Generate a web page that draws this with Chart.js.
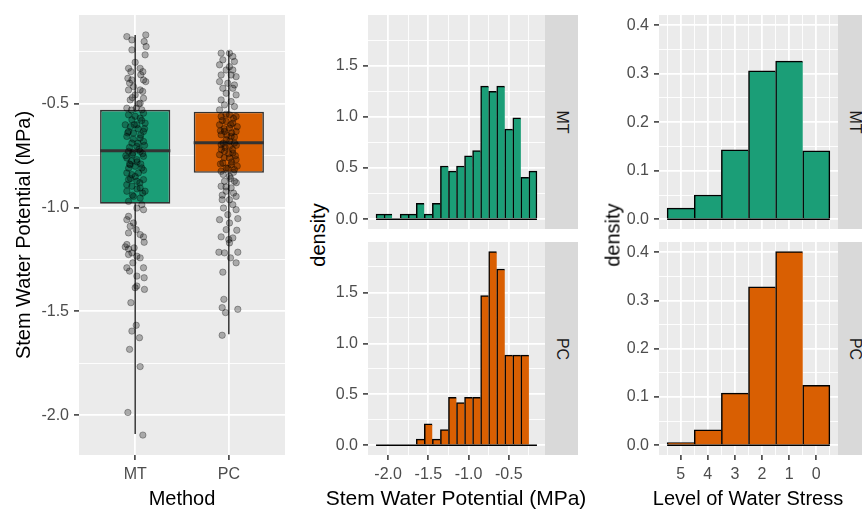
<!DOCTYPE html>
<html>
<head>
<meta charset="utf-8">
<script src="https://cdn.jsdelivr.net/npm/chart.js@4.4.0/dist/chart.umd.min.js"></script>
<style>
  body { margin: 0; width: 862px; height: 509px; overflow: hidden; position: relative; background: #fff;
         font-family: "Liberation Sans", Arial, sans-serif; }
  canvas { position: absolute; display: block; }
  .strip { position: absolute; background: #D9D9D9; overflow: hidden; }
  .strip span { position: absolute; left: 50%; top: 50%; transform: translate(-50%, -50%) rotate(90deg);
                font-size: 16px; color: #1A1A1A; white-space: nowrap; }
  .ytitle { position: absolute; transform: translate(-50%, -50%) rotate(-90deg); font-size: 20px;
            color: #000; white-space: nowrap; }
  .xtitle { position: absolute; transform: translateX(-50%); font-size: 20px; line-height: 20px;
            color: #000; white-space: nowrap; }
</style>
</head>
<body>
<canvas id="box" width="290" height="509" style="left:0;top:0"></canvas>
<canvas id="histMT" width="215" height="229" style="left:330px;top:0"></canvas>
<canvas id="histPC" width="215" height="267" style="left:330px;top:242px"></canvas>
<canvas id="stressMT" width="218" height="229" style="left:620px;top:0"></canvas>
<canvas id="stressPC" width="218" height="267" style="left:620px;top:242px"></canvas>

<div class="strip" style="left:545px;top:15px;width:33px;height:214px"><span>MT</span></div>
<div class="strip" style="left:545px;top:242px;width:33px;height:213px"><span>PC</span></div>
<div class="strip" style="left:838px;top:15px;width:33px;height:214px"><span>MT</span></div>
<div class="strip" style="left:838px;top:242px;width:33px;height:213px"><span>PC</span></div>
<div class="ytitle" style="left:318px;top:235px">density</div>
<div class="ytitle" style="left:613px;top:235px">density</div>
<div class="xtitle" style="left:456px;top:488px;font-size:21px">Stem Water Potential (MPa)</div>
<div class="xtitle" style="left:748px;top:488px">Level of Water Stress</div>

<script>
// ---- data ----
const methods = ['MT', 'PC'];
const boxColors = ['#1B9E77', '#D95F02'];

// boxplot summary (MPa)
const boxQ1 = [-0.981, -0.832];
const boxMedian = [-0.726, -0.688];
const boxQ3 = [-0.529, -0.538];
const whiskerLow = [-2.091, -1.610];
const whiskerHigh = [-0.168, -0.245];

const mtJitter = [-0.089, -0.035, 0.113, 0.096, -0.035, 0.117, 0.106, -0.071, -0.046, 0.053,
  0.082, -0.078, -0.035, 0.089, 0.113, -0.018, -0.071, 0.053, 0, 0.089,
  -0.053, 0.053, -0.089, 0.011, 0.071, -0.071, 0.089, -0.035, 0.053, -0.106,
  0.018, 0.106, -0.071, -0.018, 0.089, -0.089, 0.053, -0.035, 0.018, 0.089,
  -0.071, -0.025, 0.053, -0.089, 0.018, 0.089, -0.053, 0, 0.071, -0.089,
  -0.035, 0.035, -0.071, 0.018, 0.089, -0.035, 0.053, -0.089, 0.106, -0.018,
  0.053, 0.071, -0.071, 0.018, 0.089, -0.071, -0.089, -0.018, -0.053, 0.011,
  -0.071, 0.053, 0.089, 0.096, -0.089, -0.106, -0.071, -0.011, -0.035, -0.071,
  0.018, 0.053, -0.025, -0.089, -0.060, 0.089, 0.018, 0.096, 0.018, 0.099,
  0, -0.046, 0.011, -0.035, 0.046, -0.060, 0.053, -0.078, 0.082,
  0.0, 0.07, -0.05, 0.03, -0.08, 0.06, -0.02, 0.10, -0.06, 0.04,
  -0.03, 0.08, -0.10, 0.02, -0.04, 0.06, -0.07, 0.09, 0.0, -0.05,
  0.05, -0.09, 0.02, 0.08, -0.03, -0.06, 0.03, -0.01, 0.10, -0.04,
  0.0, 0.06, -0.06, 0.08, -0.03, 0.04];
const mtStemWP = [-0.176, -0.192, -0.168, -0.200, -0.240, -0.224, -0.264, -0.329, -0.345, -0.329,
  -0.345, -0.377, -0.385, -0.385, -0.393, -0.417, -0.433, -0.433, -0.457, -0.473,
  -0.481, -0.497, -0.521, -0.521, -0.529, -0.553, -0.545, -0.577, -0.569, -0.601,
  -0.601, -0.593, -0.633, -0.641, -0.633, -0.657, -0.665, -0.689, -0.705, -0.681,
  -0.729, -0.737, -0.729, -0.761, -0.769, -0.753, -0.793, -0.801, -0.809, -0.833,
  -0.841, -0.833, -0.865, -0.873, -0.865, -0.897, -0.905, -0.921, -0.921, -0.946,
  -0.954, -0.986, -0.970, -1.002, -1.010, -1.042, -1.058, -1.074, -1.090, -1.106,
  -1.122, -1.130, -1.141, -1.167, -1.178, -1.189, -1.199, -1.194, -1.218, -1.226,
  -1.234, -1.242, -1.266, -1.290, -1.306, -1.290, -1.330, -1.338, -1.378, -1.394,
  -1.386, -1.458, -1.567, -1.595, -1.627, -1.683, -1.766, -1.987, -2.096,
  -0.56, -0.58, -0.61, -0.62, -0.64, -0.65, -0.67, -0.70, -0.71, -0.72,
  -0.745, -0.74, -0.75, -0.78, -0.775, -0.79, -0.81, -0.82, -0.85, -0.86,
  -0.88, -0.89, -0.91, -0.93, -0.94, -0.79, -0.69, -0.60, -0.62, -0.53,
  -0.30, -0.36, -0.40, -0.44, -0.47, -0.50];
const pcJitter = [-0.082, 0.007, 0.043, -0.064, 0.060, -0.099, 0.007, -0.028, 0.043, -0.082,
  0.025, 0.078, -0.099, -0.011, 0.060, -0.064, 0.043, -0.028, 0.078, -0.082,
  0.025, -0.046, 0.060, -0.099, 0.007, -0.082, 0.078, -0.028, 0.043, -0.099,
  0.007, -0.046, 0.078, -0.082, 0.025, -0.028, 0.060, -0.082, 0.007, -0.046,
  0.043, -0.099, 0.007, 0.078, -0.064, 0.025, -0.028, 0.060, -0.082, 0.007,
  -0.046, 0.060, -0.082, 0.025, -0.028, 0.078, -0.071, 0.007, 0.043, -0.057,
  0.078, -0.011, -0.099, 0.096, 0.007, -0.028, 0.085, -0.082, 0, 0.043,
  0.007, -0.106, -0.046, 0.096, 0.018, 0.078, -0.064, -0.053, -0.071, -0.035,
  0.096, -0.071,
  -0.03, 0.05, -0.07, 0.02, 0.09, -0.05, 0.03, -0.09, 0.06, -0.02,
  0.01, -0.06, 0.08, -0.04, 0.04, -0.08, 0.0, 0.07, -0.05, 0.03,
  -0.09, 0.09, -0.01, 0.05, -0.06, 0.02, 0.08, -0.03, 0.05, -0.07];
const pcStemWP = [-0.256, -0.256, -0.272, -0.288, -0.296, -0.312, -0.321, -0.337, -0.337, -0.361,
  -0.361, -0.369, -0.393, -0.401, -0.409, -0.425, -0.425, -0.449, -0.457, -0.481,
  -0.489, -0.505, -0.513, -0.529, -0.553, -0.561, -0.561, -0.585, -0.593, -0.601,
  -0.617, -0.633, -0.633, -0.649, -0.657, -0.673, -0.689, -0.697, -0.705, -0.729,
  -0.737, -0.745, -0.761, -0.769, -0.785, -0.793, -0.809, -0.817, -0.825, -0.849,
  -0.873, -0.873, -0.897, -0.905, -0.921, -0.946, -0.962, -0.962, -0.986, -1.002,
  -1.010, -1.034, -1.058, -1.053, -1.074, -1.106, -1.109, -1.141, -1.154, -1.146,
  -1.170, -1.215, -1.218, -1.215, -1.242, -1.266, -1.311, -1.442, -1.482, -1.506,
  -1.490, -1.615,
  -0.55, -0.57, -0.58, -0.60, -0.61, -0.62, -0.64, -0.63, -0.66, -0.65,
  -0.68, -0.69, -0.70, -0.71, -0.72, -0.72, -0.74, -0.75, -0.76, -0.78,
  -0.79, -0.80, -0.81, -0.83, -0.84, -0.86, -0.88, -0.90, -0.93, -0.94];

// histogram of stem water potential, binwidth 0.1
const binCenters = [-2.1, -2.0, -1.9, -1.8, -1.7, -1.6, -1.5, -1.4, -1.3, -1.2,
  -1.1, -1.0, -0.9, -0.8, -0.7, -0.6, -0.5, -0.4, -0.3, -0.2];
const mtDensity = [0.05, 0.05, 0, 0.05, 0.05, 0.155, 0.05, 0.155, 0.52, 0.47,
  0.52, 0.62, 0.67, 1.30, 1.25, 1.30, 0.88, 0.99, 0.41, 0.47];
const pcDensity = [0, 0, 0, 0, 0, 0.06, 0.21, 0.06, 0.155, 0.47,
  0.42, 0.47, 0.47, 1.47, 1.90, 1.73, 0.885, 0.885, 0.885, 0];

// level of water stress
const stressLevels = [5, 4, 3, 2, 1, 0];
const mtStress = [0.023, 0.050, 0.143, 0.306, 0.326, 0.141];
const pcStress = [0.0055, 0.032, 0.108, 0.328, 0.401, 0.124];

// axis breaks
const boxYMajor = [-2.0, -1.5, -1.0, -0.5];
const boxYMinor = [-1.75, -1.25, -0.75, -0.25];
const histXMajor = [-2.0, -1.5, -1.0, -0.5];
const histXMinor = [-1.75, -1.25, -0.75, -0.25];
const histYMajor = [0, 0.5, 1.0, 1.5];
const histYMinor = [0.25, 0.75, 1.25, 1.75];
const stressXMajor = [0, 1, 2, 3, 4, 5];
const stressXMinor = [-0.5, 0.5, 1.5, 2.5, 3.5, 4.5, 5.5];
const stressYMajor = [0, 0.1, 0.2, 0.3, 0.4];
const stressYMinor = [0.05, 0.15, 0.25, 0.35];

// ---- styling ----
Chart.defaults.font.family = '"Liberation Sans", Arial, sans-serif';
Chart.defaults.font.size = 16;
Chart.defaults.color = '#4D4D4D';
Chart.defaults.animation = false;
Chart.defaults.plugins.legend.display = false;
Chart.defaults.plugins.tooltip.enabled = false;

const BOX_WIDTH = 0.75; // in category units, like ggplot's default

const panelBg = {
    id: 'panelBg',
    beforeDraw(chart) {
        const { ctx, chartArea: a } = chart;
        ctx.save();
        ctx.fillStyle = '#EBEBEB';
        ctx.fillRect(a.left, a.top, a.right - a.left, a.bottom - a.top);
        ctx.restore();
    }
};

// ggplot-like axis: major + minor breaks, white grid, no axis line
function ggScale(o) {
    const isMajor = v => o.major.some(m => Math.abs(m - v) < 1e-9);
    const all = o.major.concat(o.minor || []).sort((a, b) => a - b);
    const showLabels = o.labels !== false;
    return {
        type: 'linear',
        min: o.min,
        max: o.max,
        reverse: !!o.reverse,
        offset: false,
        afterBuildTicks: s => { s.ticks = all.map(v => ({ value: v })); },
        afterFit: s => {
            if (s.isHorizontal()) s.height = o.size; else s.width = o.size;
            s.paddingTop = 0; s.paddingBottom = 0; s.paddingLeft = 0; s.paddingRight = 0;
        },
        ticks: {
            display: showLabels,
            autoSkip: false,
            maxRotation: 0,
            padding: 5,
            color: '#4D4D4D',
            callback: v => isMajor(v) ? (o.fmt ? o.fmt(v) : v.toFixed(1)) : ''
        },
        grid: {
            offset: false,
            color: '#FFFFFF',
            drawTicks: showLabels,
            tickLength: 5,
            lineWidth: c => (c.tick && isMajor(c.tick.value)) ? 1.8 : 0.9,
            tickColor: c => (c.tick && isMajor(c.tick.value)) ? '#333333' : 'rgba(0,0,0,0)',
            tickWidth: 1.5
        },
        border: { display: false },
        title: o.title
            ? { display: true, text: o.title, color: '#000000', font: { size: 20, lineHeight: 1 }, padding: o.titlePad }
            : { display: false }
    };
}

// ---- boxplot with jittered points ----
const pointStyle = {
    type: 'scatter',
    pointRadius: 3.2,
    pointBackgroundColor: 'rgba(0,0,0,0.28)',
    pointBorderColor: 'rgba(0,0,0,0.3)',
    pointBorderWidth: 1,
    order: 0
};

new Chart(document.getElementById('box'), {
    type: 'bar',
    data: {
        datasets: [
            Object.assign({}, pointStyle, { data: mtStemWP.map((v, i) => ({ x: 1 + mtJitter[i], y: v })) }),
            Object.assign({}, pointStyle, { data: pcStemWP.map((v, i) => ({ x: 2 + pcJitter[i], y: v })) }),
            // median lines
            ...methods.map((m, i) => ({
                type: 'scatter',
                showLine: true,
                data: [{ x: i + 1 - BOX_WIDTH / 2, y: boxMedian[i] }, { x: i + 1 + BOX_WIDTH / 2, y: boxMedian[i] }],
                borderColor: '#333333',
                borderWidth: 3,
                borderCapStyle: 'butt',
                pointRadius: 0,
                order: 1
            })),
            // boxes q1 -> q3
            {
                type: 'bar',
                grouped: false,
                barPercentage: BOX_WIDTH,
                categoryPercentage: 1,
                inflateAmount: 0,
                data: methods.map((m, i) => ({ x: i + 1, y: [boxQ1[i], boxQ3[i]] })),
                backgroundColor: boxColors,
                borderColor: '#333333',
                borderWidth: 1.6,
                borderSkipped: false,
                order: 2
            },
            // whiskers
            ...methods.map((m, i) => ({
                type: 'scatter',
                showLine: true,
                data: [{ x: i + 1, y: whiskerLow[i] }, { x: i + 1, y: whiskerHigh[i] }],
                borderColor: '#333333',
                borderWidth: 1.5,
                pointRadius: 0,
                order: 3
            }))
        ]
    },
    options: {
        responsive: false,
        layout: { padding: { top: 15, right: 5, left: 0, bottom: 0 } },
        scales: {
            x: ggScale({ min: 0.4, max: 2.6, major: [1, 2], size: 54, fmt: v => methods[v - 1],
                         title: 'Method', titlePad: { top: 0, bottom: 0 } }),
            y: ggScale({ min: -2.192, max: -0.072, major: boxYMajor, minor: boxYMinor, size: 79,
                         title: 'Stem Water Potential (MPa)', titlePad: { top: 14, bottom: 0 } })
        }
    },
    plugins: [panelBg]
});

// ---- histograms ----
function histChart(id, centers, dens, color, xScale, yScale, padTop) {
    const bw = Math.abs(centers[1] - centers[0]);
    const last = dens.length - 1;
    return new Chart(document.getElementById(id), {
        type: 'bar',
        data: {
            datasets: [
                {
                    type: 'scatter',
                    showLine: true,
                    data: [{ x: Math.min(...centers) - bw / 2, y: 0 }, { x: Math.max(...centers) + bw / 2, y: 0 }],
                    borderColor: '#000000',
                    borderWidth: 1.5,
                    pointRadius: 0,
                    order: 0
                },
                {
                    type: 'bar',
                    data: centers.map((c, i) => ({ x: c, y: dens[i] })),
                    backgroundColor: color,
                    borderColor: '#000000',
                    borderSkipped: false,
                    borderWidth: c => ({ top: 1.5, left: 1.5, bottom: 0, right: c.dataIndex === last ? 1.5 : 0 }),
                    barThickness: 'flex',
                    barPercentage: 1,
                    categoryPercentage: 1,
                    order: 1
                }
            ]
        },
        options: {
            responsive: false,
            layout: { padding: { top: padTop, right: 0, left: 0, bottom: 0 } },
            scales: { x: xScale, y: yScale }
        },
        plugins: [panelBg]
    });
}

const histY = size => ggScale({ min: -0.095, max: 1.995, major: histYMajor, minor: histYMinor, size: size });
const stressY = size => ggScale({ min: -0.02, max: 0.421, major: stressYMajor, minor: stressYMinor, size: size });

histChart('histMT', binCenters, mtDensity, boxColors[0],
    ggScale({ min: -2.25, max: -0.05, major: histXMajor, minor: histXMinor, size: 0, labels: false }),
    histY(38), 15);
histChart('histPC', binCenters, pcDensity, boxColors[1],
    ggScale({ min: -2.25, max: -0.05, major: histXMajor, minor: histXMinor, size: 54 }),
    histY(38), 0);

histChart('stressMT', stressLevels, mtStress, boxColors[0],
    ggScale({ min: -0.8, max: 5.8, reverse: true, major: stressXMajor, minor: stressXMinor, size: 0, labels: false }),
    stressY(39), 15);
histChart('stressPC', stressLevels, pcStress, boxColors[1],
    ggScale({ min: -0.8, max: 5.8, reverse: true, major: stressXMajor, minor: stressXMinor, size: 54,
              fmt: v => String(v) }),
    stressY(39), 0);
</script>
</body>
</html>
